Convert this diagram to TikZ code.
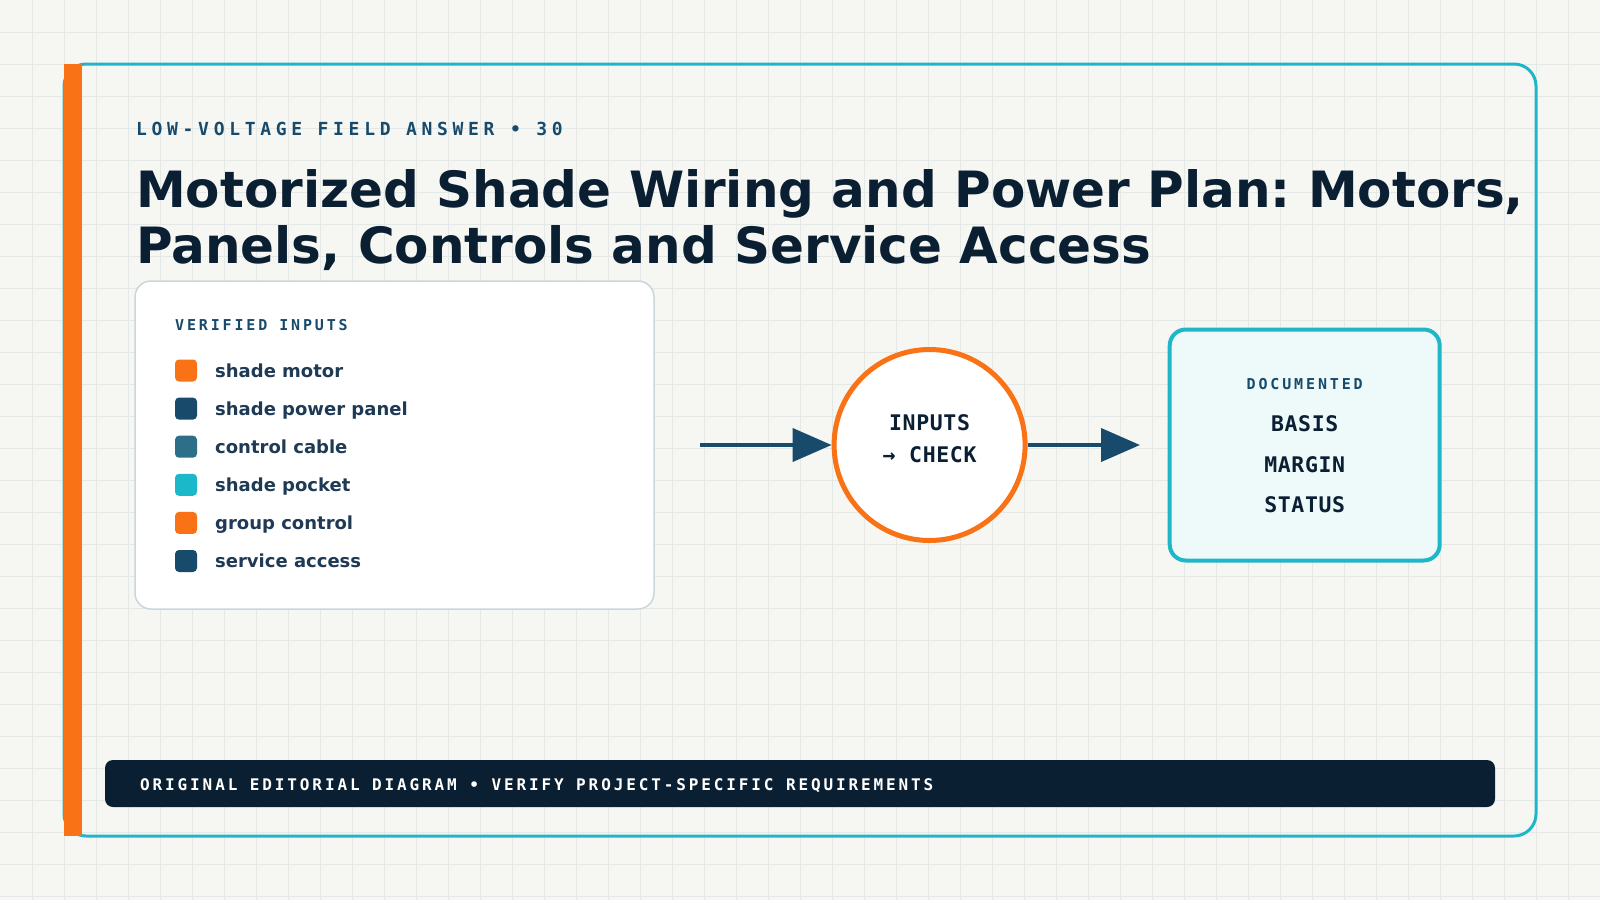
\documentclass[tikz,border=0pt]{standalone}
\usepackage{fontspec}
\setmainfont{DejaVu Sans}
\newfontfamily\monoA[LetterSpace=26]{DejaVu Sans Mono}
\newfontfamily\monoB[LetterSpace=19]{DejaVu Sans Mono}
\newfontfamily\monoD[LetterSpace=18]{DejaVu Sans Mono}
\newfontfamily\monoC[LetterSpace=3]{DejaVu Sans Mono}
\usetikzlibrary{arrows.meta}
\definecolor{bg}{HTML}{F6F7F3}
\definecolor{gridc}{HTML}{E4E9E7}
\definecolor{cyanf}{HTML}{1FB6C8}
\definecolor{orng}{HTML}{F97316}
\definecolor{navy}{HTML}{0B1F33}
\definecolor{kblue}{HTML}{174A6B}
\definecolor{itemtxt}{HTML}{1F3A55}
\definecolor{cable}{HTML}{2D6E88}
\definecolor{pocket}{HTML}{1AB8C9}
\definecolor{pborder}{HTML}{CBD6DB}
\definecolor{rfill}{HTML}{EEFAFA}
\tikzset{
  kicker/.style={anchor=base west,inner sep=0pt,text=kblue,font=\monoA\bfseries\fontsize{18}{20}\selectfont},
  titletxt/.style={anchor=base west,inner sep=0pt,text=navy,font=\bfseries\fontsize{50}{60}\selectfont},
  seclabel/.style={anchor=base west,inner sep=0pt,text=kblue,font=\monoB\bfseries\fontsize{15}{18}\selectfont},
  swatch/.style={minimum size=22pt,inner sep=0pt,rounded corners=4pt,draw=none},
  itemlabel/.style={anchor=base west,inner sep=0pt,text=itemtxt,font=\bfseries\fontsize{18}{20}\selectfont},
  bigmono/.style={anchor=base,inner sep=0pt,text=navy,font=\monoC\bfseries\fontsize{21.5}{24}\selectfont},
  flow/.style={line width=4pt,draw=kblue,-{Triangle[length=39pt,width=33pt]}},
}
\begin{document}
\frenchspacing
\begin{tikzpicture}[x=1pt,y=-1pt]
\useasboundingbox (0,0) rectangle (1600,900);
\fill[bg] (0,0) rectangle (1600,900);
\foreach \i in {1,...,49} {\draw[gridc,line width=0.8pt] (\i*32,0) -- (\i*32,900);}
\foreach \j in {1,...,28} {\draw[gridc,line width=0.8pt] (0,\j*32) -- (1600,\j*32);}
% frame
\draw[cyanf,line width=3pt,rounded corners=22pt] (64,64) rectangle (1536,836);
\fill[orng] (64,64) rectangle (82,836);
% header
\node[kicker] (kick) at (136,135) {LOW-VOLTAGE FIELD ANSWER • 30};
\node[titletxt] (t1) at (136,207) {Motorized Shade Wiring and Power Plan: Motors,};
\node[titletxt] (t2) at (136,263) {Panels, Controls and Service Access};
% left panel
\draw[pborder,fill=white,line width=1.5pt,rounded corners=16pt] (135,281) rectangle (654,609);
\node[seclabel] (vi) at (175,330) {VERIFIED INPUTS};
\foreach \c/\t [count=\k from 0] in {orng/shade motor,kblue/shade power panel,cable/control cable,pocket/shade pocket,orng/group control,kblue/service access}{
  \node[swatch,fill=\c] (sw\k) at (186,370.5+38.1*\k) {};
  \node[itemlabel] (it\k) at (215,377+38.1*\k) {\t};
}
% circle
\node[circle,draw=orng,fill=white,line width=5pt,minimum size=191pt,inner sep=0pt] (chk) at (929.6,445) {};
\node[bigmono] (c1) at (929.6,430) {INPUTS};
\node[bigmono] (c2) at (929.6,462) {→ CHECK};
% right box
\node[draw=cyanf,fill=rfill,line width=4pt,rounded corners=16pt,minimum width=270pt,minimum height=231pt,inner sep=0pt] (doc) at (1304.7,445) {};
\node[seclabel,anchor=base] (d0) at (1304.7,389.5) {DOCUMENTED};
\node[bigmono] (d1) at (1304.7,431.5) {BASIS};
\node[bigmono] (d2) at (1304.7,472) {MARGIN};
\node[bigmono] (d3) at (1304.7,512) {STATUS};
% arrows
\coordinate (ain) at (700,445);
\coordinate (aout) at (1140,445);
\draw[flow] (ain) -- (chk.west);
\draw[flow] (chk.east) -- (aout);
% footer
\fill[navy,rounded corners=8pt] (105,760) rectangle (1495,807);
\node[anchor=base west,inner sep=0pt,text=white,font=\monoD\bfseries\fontsize{16}{18}\selectfont] (foot) at (140,790) {ORIGINAL EDITORIAL DIAGRAM • VERIFY PROJECT-SPECIFIC REQUIREMENTS};
\end{tikzpicture}
\end{document}
